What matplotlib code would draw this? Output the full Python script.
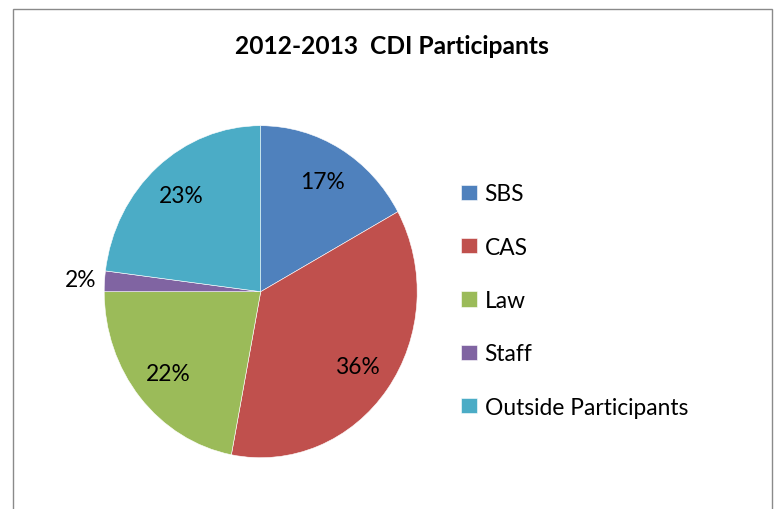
import numpy as np
import matplotlib.pyplot as plt
from matplotlib.patches import Rectangle

plt.rcParams['font.family'] = ['Lato', 'DejaVu Sans']

# udzialy uczestnikow CDI 2012-2013 (w procentach)
kategorie = ['SBS', 'CAS', 'Law', 'Staff', 'Outside Participants']
udzialy = [17, 36, 22, 2, 23]
kolory = ['#4F81BD', '#C0504D', '#9BBB59', '#8064A2', '#4BACC6']

fig = plt.figure(figsize=(7.77, 5.10), dpi=100)

# ramka wykresu (dolna krawedz poza obrazkiem)
ramka = Rectangle((13/777, -0.05), (772-13)/777, 1.05 - 10/510,
                  transform=fig.transFigure, fill=False,
                  edgecolor='#8a8a8a', lw=1.0, clip_on=False)
fig.patches.append(ramka)

fig.text(391.5/777, 1 - 47/510, '2012-2013  CDI Participants',
         ha='center', va='center', fontsize=17.7, fontweight='bold')

ax = fig.add_axes([104.2/777, 51.3/510, 313/777, 332/510])
wedges, teksty, procenty = ax.pie(
    udzialy, colors=kolory, startangle=90, counterclock=False,
    autopct='%1.0f%%', pctdistance=0.77,
    wedgeprops=dict(edgecolor='white', linewidth=0.4),
    textprops=dict(fontsize=16.4, color='black'))
ax.set_aspect('auto')
ax.set_xlim(-1, 1)
ax.set_ylim(-1, 1)

# maly wycinek "Staff" - etykieta na zewnatrz
i = kategorie.index('Staff')
kat = np.deg2rad((wedges[i].theta1 + wedges[i].theta2) / 2)
procenty[i].set_position((1.15 * np.cos(kat), 1.14 * np.sin(kat)))
procenty[i].set_ha('center')

fig.legend(wedges, kategorie, loc='center left',
           bbox_to_anchor=(460.7/777, 1 - 301.5/510), frameon=False,
           fontsize=16.4, handlelength=0.70, handleheight=0.66,
           handletextpad=0.35, labelspacing=1.42, borderpad=0,
           borderaxespad=0)

fig.savefig('out.png', dpi=100)
